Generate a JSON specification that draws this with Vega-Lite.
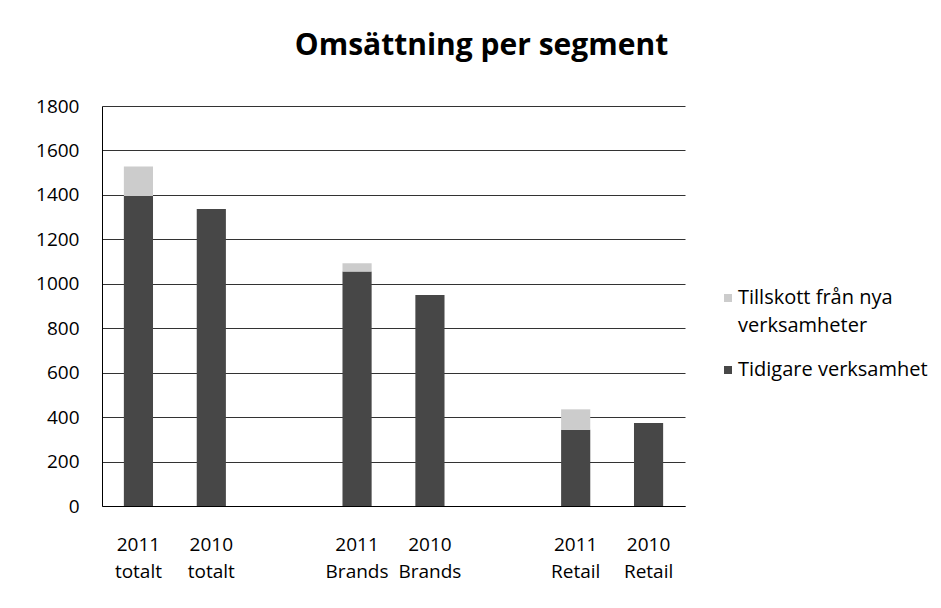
{
  "$schema": "https://vega.github.io/schema/vega-lite/v6.json",
  "autosize": "none",
  "width": 583,
  "height": 400,
  "padding": {"left": 102, "top": 106, "right": 256, "bottom": 102},
  "background": "white",
  "title": {
    "text": "Omsättning per segment",
    "font": "Open Sans",
    "fontSize": 30,
    "fontWeight": "bold",
    "color": "#000000",
    "anchor": "middle",
    "dx": 88,
    "offset": 36
  },
  "data": {
    "values": [
      {"kategori": "2011 totalt", "typ": "Tidigare verksamhet", "varde": 1395},
      {"kategori": "2011 totalt", "typ": "Tillskott från nya verksamheter", "varde": 133},
      {"kategori": "2010 totalt", "typ": "Tidigare verksamhet", "varde": 1337},
      {"kategori": "2011 Brands", "typ": "Tidigare verksamhet", "varde": 1055},
      {"kategori": "2011 Brands", "typ": "Tillskott från nya verksamheter", "varde": 37},
      {"kategori": "2010 Brands", "typ": "Tidigare verksamhet", "varde": 950},
      {"kategori": "2011 Retail", "typ": "Tidigare verksamhet", "varde": 343},
      {"kategori": "2011 Retail", "typ": "Tillskott från nya verksamheter", "varde": 92},
      {"kategori": "2010 Retail", "typ": "Tidigare verksamhet", "varde": 373}
    ]
  },
  "mark": {"type": "bar"},
  "encoding": {
    "x": {
      "field": "kategori",
      "type": "nominal",
      "scale": {
        "domain": ["2011 totalt", "2010 totalt", "gap1", "2011 Brands", "2010 Brands", "gap2", "2011 Retail", "2010 Retail"],
        "paddingInner": 0.6,
        "paddingOuter": 0.3
      },
      "axis": {
        "title": null,
        "labelAngle": 0,
        "ticks": false,
        "domainColor": "#000000",
        "domainWidth": 1,
        "labelExpr": "indexof(datum.value, 'gap') >= 0 ? '' : split(datum.value, ' ')",
        "labelFont": "Open Sans",
        "labelFontSize": 19,
        "labelColor": "#000000",
        "labelBaseline": "top",
        "labelPadding": 29,
        "labelLineHeight": 27
      }
    },
    "y": {
      "field": "varde",
      "type": "quantitative",
      "stack": "zero",
      "scale": {"domain": [0, 1800], "nice": false},
      "axis": {
        "title": null,
        "values": [0, 200, 400, 600, 800, 1000, 1200, 1400, 1600, 1800],
        "format": "d",
        "ticks": false,
        "domainColor": "#000000",
        "domainWidth": 1,
        "grid": true,
        "gridColor": "#333333",
        "gridWidth": 1,
        "labelFont": "Open Sans",
        "labelFontSize": 19,
        "labelColor": "#000000",
        "labelPadding": 23
      }
    },
    "color": {
      "field": "typ",
      "type": "nominal",
      "scale": {
        "domain": ["Tillskott från nya verksamheter", "Tidigare verksamhet"],
        "range": ["#cccccc", "#474747"]
      },
      "legend": {
        "title": null,
        "orient": "none",
        "legendX": 616,
        "legendY": 182,
        "symbolType": "square",
        "symbolSize": 64,
        "symbolStrokeWidth": 0,
        "labelFont": "Open Sans",
        "labelFontSize": 20,
        "labelColor": "#000000",
        "labelOffset": 0,
        "labelExpr": "datum.label == 'Tillskott från nya verksamheter' ? ['Tillskott från nya', 'verksamheter'] : datum.label",
        "labelLimit": 300,
        "rowPadding": 24,
        "encode": {
          "labels": {"update": {"lineHeight": {"value": 28}}}
        }
      }
    },
    "order": {"field": "typ", "sort": "ascending"}
  },
  "config": {
    "view": {"stroke": null}
  }
}
